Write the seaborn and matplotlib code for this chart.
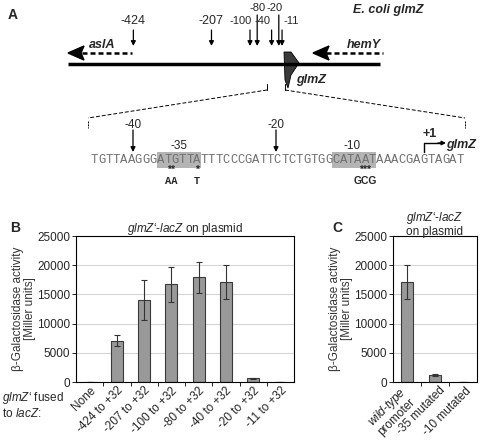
import numpy as np
import pandas as pd
import seaborn as sns
import matplotlib.pyplot as plt
from matplotlib.patches import Polygon, Rectangle
from matplotlib.transforms import ScaledTranslation

# ---- data ----
construct_labels = ["None", "-424 to +32", "-207 to +32", "-100 to +32",
                    "-80 to +32", "-40 to +32", "-20 to +32", "-11 to +32"]
construct_mean = [60, 7100, 14100, 16700, 17900, 17100, 600, 80]
construct_err = [0, 1000, 3400, 3000, 2600, 2900, 100, 0]

mutant_labels = [r"$\it{wild}$-$\it{type}$" + "\npromoter", "-35 mutated", "-10 mutated"]
mutant_mean = [17100, 1200, 40]
mutant_err = [2900, 100, 0]

deletion_ends = [-424, -207, -100, -80, -40, -20, -11]
promoter_seq = "TGTTAAGGGATGTTATTTCCCGATTCTCTGTGGCATAATAAACGAGTAGAT"

sns.set_style("white")
plt.rcParams['font.family'] = ['Liberation Sans', 'DejaVu Sans']
plt.rcParams['mathtext.fontset'] = 'custom'
plt.rcParams['mathtext.rm'] = 'Liberation Sans'
plt.rcParams['mathtext.it'] = 'Liberation Sans:italic'
plt.rcParams['mathtext.bf'] = 'Liberation Sans:bold'

fig = plt.figure(figsize=(4.8, 4.4), dpi=100)

# ---- panel A: drawn in pixel coordinates ----
ax0 = fig.add_axes([0, 0, 1, 1])
ax0.set_xlim(0, 480)
ax0.set_ylim(440, 0)
ax0.axis("off")

ax0.text(8, 15, "A", fontsize=10, fontweight="bold", va="center")
ax0.text(388, 10, "E. coli glmZ", fontsize=9, fontweight="bold", style="italic", ha="center", va="center")

ax0.plot([68, 380], [64, 64], color="black", lw=2.5, solid_capstyle="butt")

# flanking genes
ax0.plot([82, 132], [53, 53], color="black", lw=1.8, ls=(0, (2, 1.2)))
ax0.add_patch(Polygon([(68, 53), (84, 46), (81, 53), (84, 60)], closed=True, color="black"))
ax0.text(102, 45, "aslA", fontsize=9, fontweight="bold", style="italic", ha="center", va="center")
ax0.plot([326, 383], [53, 53], color="black", lw=1.8, ls=(0, (2, 1.2)))
ax0.add_patch(Polygon([(313, 53), (329, 46), (326, 53), (329, 60)], closed=True, color="black"))
ax0.text(364, 45, "hemY", fontsize=9, fontweight="bold", style="italic", ha="center", va="center")

# glmZ gene arrow
ax0.add_patch(Polygon([(284, 52), (291, 52), (299, 63), (291, 75), (288, 88), (285, 80)],
                      closed=True, facecolor="#3a3a3a", edgecolor="black", lw=0.6))
ax0.text(311, 80, "glmZ", fontsize=9, fontweight="bold", style="italic", ha="center", va="center")

# deletion end points (not to scale in the original either)
bp_to_px = lambda bp: 286 + 0.36 * bp
label_pos = {-424: (0, "center", 9), -207: (0, "center", 9), -100: (-9, "center", 8),
             -80: (0, "center", 8), -40: (-1, "right", 8), -20: (-4, "center", 8),
             -11: (1.5, "left", 8)}
for bp in deletion_ends:
    x = bp_to_px(bp)
    high = bp in (-80, -20)
    y_top = 15 if high else 30
    ax0.annotate("", xy=(x, 46), xytext=(x, y_top),
                 arrowprops=dict(arrowstyle="-|>", color="black", lw=0.9, mutation_scale=7,
                                 shrinkA=0, shrinkB=0))
    dx, ha, fs = label_pos[bp]
    ax0.text(x + dx, 8 if high else 21, str(bp), fontsize=fs, ha=ha, va="center")

# zoom lines
ax0.plot([267, 267], [84, 90], color="black", lw=0.7)
ax0.plot([285, 285], [84, 90], color="black", lw=0.7)
ax0.plot([267, 88], [90, 118], color="black", lw=0.7, ls=(0, (4, 2)))
ax0.plot([285, 465], [90, 118], color="black", lw=0.7, ls=(0, (4, 2)))
ax0.plot([88, 88], [121, 128], color="black", lw=0.7, ls=(0, (2, 1)))
ax0.plot([465, 465], [121, 128], color="black", lw=0.7, ls=(0, (2, 1)))

# promoter sequence
x0, cw = 91, 373 / len(promoter_seq)
for i0, i1 in [(9, 15), (33, 39)]:
    ax0.add_patch(Rectangle((x0 + i0 * cw, 152), (i1 - i0) * cw, 16, color="#b4b4b4", lw=0))
for i, ch in enumerate(promoter_seq):
    ax0.text(x0 + (i + 0.5) * cw, 160, ch, fontsize=8.8, family="Liberation Mono",
             color="#707070", ha="center", va="center")

for lab, x, y in [("-40", 133, 125), ("-20", 276, 125), ("-35", 179, 146), ("-10", 352, 146)]:
    ax0.text(x, y, lab, fontsize=8.5, ha="center", va="center")
for x in (133, 276):
    ax0.annotate("", xy=(x, 152), xytext=(x, 130),
                 arrowprops=dict(arrowstyle="-|>", color="black", lw=0.9, mutation_scale=7,
                                 shrinkA=0, shrinkB=0))

# mutations
for idx, mut in [((10, 11), "AA"), ((14,), "T"), ((36, 37, 38), "GCG")]:
    xc = x0 + (np.mean(idx) + 0.5) * cw
    ax0.text(xc, 175, "*" * len(idx), fontsize=7.5, fontweight="bold", ha="center", va="bottom")
    fam = "Liberation Sans" if mut == "GCG" else "Liberation Mono"
    ax0.text(xc, 175.5, mut, fontsize=7.5, fontweight="bold", family=fam, ha="center", va="top")

# transcription start
ax0.plot([424, 424, 440], [152, 143, 143], color="black", lw=1)
ax0.annotate("", xy=(446, 143), xytext=(438, 143),
             arrowprops=dict(arrowstyle="-|>", color="black", lw=1, mutation_scale=6,
                             shrinkA=0, shrinkB=0))
ax0.text(430, 134, "+1", fontsize=9, fontweight="bold", ha="center", va="center")
ax0.text(461, 145, "glmZ", fontsize=9, fontweight="bold", style="italic", ha="center", va="center")


# ---- panels B and C ----
def bar_panel(ax, labels, mean, err):
    sns.barplot(x=labels, y=mean, color="#999999", edgecolor="#3a3a3a", linewidth=0.8,
                width=0.44, saturation=1, ax=ax)
    ax.errorbar(range(len(mean)), mean, yerr=err, fmt="none", ecolor="#333333",
                elinewidth=0.8, capsize=2.5, capthick=0.8)
    ax.set_ylim(0, 25000)
    ax.set_xlim(-0.5, len(mean) - 0.5)
    ax.set_yticks(range(0, 25001, 5000))
    ax.yaxis.grid(True, color="#d5d5d5", lw=0.8)
    ax.set_axisbelow(True)
    for s in ax.spines.values():
        s.set_color("black")
        s.set_linewidth(0.8)
    ax.set_xticks(np.arange(len(mean) - 1) + 0.5, minor=True)
    ax.tick_params(axis="x", which="major", length=0, labelsize=8.5, pad=2)
    ax.tick_params(axis="x", which="minor", length=3, width=0.7, bottom=True)
    ax.tick_params(axis="y", length=3, width=0.7, left=True, labelsize=8.5, pad=1)
    for t in ax.get_xticklabels():
        t.set_rotation(45)
        t.set_ha("right")
        t.set_rotation_mode("anchor")
    ax.set_ylabel("β-Galactosidase activity\n[Miller units]", fontsize=8.5, color="#333333",
                  linespacing=1.0, labelpad=1)


axB = fig.add_axes([76 / 480, 58 / 440, 218 / 480, 146 / 440])
bar_panel(axB, construct_labels, construct_mean, construct_err)
axB.set_title(r"$\it{glmZ}$‘-$\it{lacZ}$ on plasmid", fontsize=8.5, pad=3)
fig.text(10 / 480, 1 - 228 / 440, "B", fontsize=10, fontweight="bold", va="center")
fig.text(2 / 480, 1 - 405 / 440, r"$\it{glmZ}$‘ fused" + "\n" + r"to $\it{lacZ}$:",
         fontsize=8.5, va="center", linespacing=1.05)

axC = fig.add_axes([393 / 480, 58 / 440, 84 / 480, 146 / 440])
bar_panel(axC, mutant_labels, mutant_mean, mutant_err)
axC.tick_params(axis="x", which="major", pad=5)
# nudge the crowded tick labels of panel C (pixels right, up)
c_shift = [(1, -6), (8, 0), (6, 0)]
for t, (dx, dy) in zip(axC.get_xticklabels(), c_shift):
    t.set_va("center")
    t.set_linespacing(0.95)
    t.set_transform(t.get_transform() + ScaledTranslation(dx / 100, dy / 100, fig.dpi_scale_trans))
axC.set_title(r"$\it{glmZ}$‘-$\it{lacZ}$" + "\non plasmid", fontsize=8.5, pad=1, linespacing=1.0)
fig.text(332 / 480, 1 - 228 / 440, "C", fontsize=10, fontweight="bold", va="center")

fig.savefig("out.png", dpi=100)
